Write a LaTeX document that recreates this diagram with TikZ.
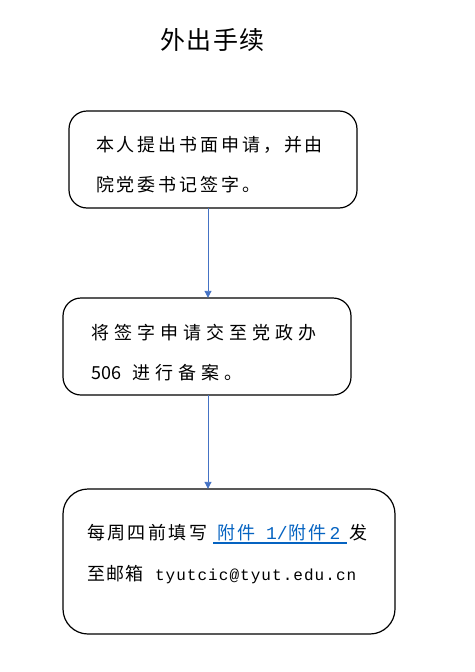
\documentclass[tikz,border=0pt]{standalone}
\usepackage{fontspec}
\setmainfont{Noto Sans CJK SC}
\newfontfamily\latinmono{Liberation Mono}
\usetikzlibrary{arrows.meta}
\definecolor{arrowblue}{HTML}{4472C4}
\definecolor{linkblue}{HTML}{0563C1}
\newlength\lsgap
\let\lsend\relax
\def\lsloop#1{\ifx#1\lsend\else#1\kern\lsgap\expandafter\lsloop\fi}
\newcommand\spaced[2]{\setlength\lsgap{#1}\lsloop #2\lsend}
\newcommand\lmono[1]{{\fontsize{18}{18}\selectfont\latinmono #1}}
\tikzset{
  stepbox/.style={draw=black, line width=1.2pt, inner sep=0pt},
  txt/.style={anchor=base west, inner sep=0pt, outer sep=0pt, font=\fontsize{18}{18}\selectfont},
  arr/.style={draw=arrowblue, line width=0.9pt, -{Triangle[width=7pt,length=7pt]}},
}
\begin{document}
\begin{tikzpicture}[x=1pt,y=-1pt]
\useasboundingbox (0,0) rectangle (474,672);
% title
\node[txt, font=\fontsize{25}{25}\selectfont] (title) at (160,49) {\spaced{1.5pt}{外出手续}};
% boxes
\draw[stepbox, rounded corners=18pt] (69,111) rectangle (357,208);
\node (b1) at (213,159.5) [minimum width=288pt, minimum height=97pt, inner sep=0pt] {};
\draw[stepbox, rounded corners=18pt] (63,298) rectangle (351,395);
\node (b2) at (207,346.5) [minimum width=288pt, minimum height=97pt, inner sep=0pt] {};
\draw[stepbox, rounded corners=25pt] (63,489) rectangle (395,634);
\node (b3) at (229,561.5) [minimum width=332pt, minimum height=145pt, inner sep=0pt] {};
% box 1 text
\node[txt] (t1a) at (96,151.5) {\spaced{2.9pt}{本人提出书面申请，并由}};
\node[txt] (t1b) at (96,191.5) {\spaced{2.9pt}{院党委书记签字。}};
% box 2 text
\node[txt] (t2a) at (91,339.5) {\spaced{5.1pt}{将签字申请交至党政办}};
\node[txt] (t2b) at (91.5,379.5) {506};
\node[txt] (t2c) at (132,379.5) {\spaced{5.1pt}{进行备案。}};
% box 3 text
\node[txt] (t3a) at (87,539.5) {\spaced{2.5pt}{每周四前填写}};
\node[txt, text=linkblue] (t3b) at (217,539.5) {附\kern2pt 件\kern11pt\lmono{1/}\kern1pt 附\kern2pt 件\kern3pt\lmono{2}};
\draw[linkblue, line width=1.2pt] (213,543) -- (347,543);
\node[txt] (t3c) at (349,539.5) {发};
\node[txt] (t3d) at (87,580.5) {\spaced{1.5pt}{至邮箱}};
\node[txt] (t3e) at (155,580.5) {\fontsize{16}{16}\selectfont\setlength\lsgap{1.05pt}\latinmono\lsloop tyutcic@tyut.edu.cn\lsend};
% connectors
\coordinate (ax) at (208,0);
\draw[arr] (b1.south -| ax) -- (b2.north -| ax);
\draw[arr] (b2.south -| ax) -- (b3.north -| ax);
\end{tikzpicture}
\end{document}
